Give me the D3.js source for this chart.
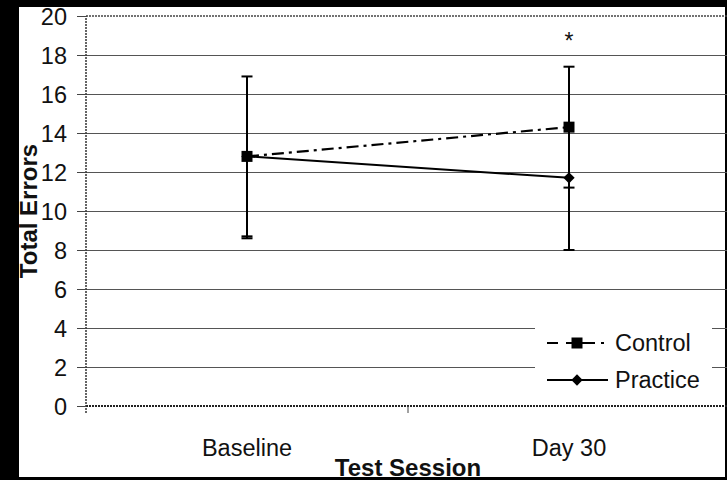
<!DOCTYPE html>
<html>
<head>
<meta charset="utf-8">
<script src="https://cdn.jsdelivr.net/npm/d3@7"></script>
<style>
  html, body { margin: 0; padding: 0; background: #000; }
  svg { display: block; }
  text { font-family: 'Liberation Sans', Arial, sans-serif; fill: #111; }
</style>
</head>
<body>
<div id="chart"></div>
<script>
// data
const sessions = ['Baseline', 'Day 30']
const controlMean = [12.8, 14.3]
const controlSd = [4.1, 3.1]
const practiceMean = [12.8, 11.7]
const practiceSd = [4.2, 3.7]
const yTicks = [0, 2, 4, 6, 8, 10, 12, 14, 16, 18, 20]
const seriesNames = ['Control', 'Practice']

const width = 727
const height = 480
const margin = { top: 16, left: 86, right: -3, bottom: 74 }
const plotW = width - margin.left - margin.right
const plotH = height - margin.top - margin.bottom

const x = d3.scaleBand().domain(sessions).range([0, plotW])
const cx = (d) => x(d) + x.bandwidth() / 2
const y = d3.scaleLinear().domain([0, 20]).range([plotH, 0])

const svg = d3
    .select('#chart')
    .append('svg')
    .attr('width', width)
    .attr('height', height)

// black scan frame
svg.append('rect').attr('width', width).attr('height', height).attr('fill', '#000')
svg.append('rect')
    .attr('x', 19)
    .attr('y', 7)
    .attr('width', width - 21)
    .attr('height', 470)
    .attr('fill', '#fff')

const g = svg
    .append('g')
    .attr('transform', `translate(${margin.left}, ${margin.top})`)

// gridlines
const grid = g
    .append('g')
    .call(d3.axisLeft(y).tickValues(yTicks.filter((d) => d > 0 && d < 20)).tickSize(-plotW).tickFormat(''))
grid.select('.domain').remove()
grid.selectAll('line').attr('stroke', '#555').attr('stroke-width', 1.2)

// plot border (dotted, like the scan)
g.append('line')
    .attr('x1', 0).attr('x2', plotW)
    .attr('y1', 0).attr('y2', 0)
    .attr('stroke', '#444').attr('stroke-width', 1.5).attr('stroke-dasharray', '2,1')
g.append('line')
    .attr('x1', 0).attr('x2', plotW)
    .attr('y1', plotH).attr('y2', plotH)
    .attr('stroke', '#222').attr('stroke-width', 2).attr('stroke-dasharray', '2,1')

// y axis
const yAxis = g
    .append('g')
    .call(d3.axisLeft(y).tickValues(yTicks).tickSize(9).tickPadding(10).tickSizeOuter(0))
yAxis.select('.domain').attr('stroke', '#333').attr('stroke-width', 1.5).attr('stroke-dasharray', '2,1')
    .attr('d', `M0,${plotH + 7}V0`)
yAxis.selectAll('line').attr('stroke', '#444')
yAxis.selectAll('text')
    .style('font-size', '23.5px')
    .style('font-family', "'Liberation Sans', Arial, sans-serif")
    .attr('fill', '#111')
    .attr('dy', '0.36em')

// x axis ticks at category boundaries
const xAxis = g
    .append('g')
    .attr('transform', `translate(0, ${plotH})`)
    .call(d3.axisBottom(x).tickSize(0).tickPadding(33))
xAxis.select('.domain').remove()
xAxis.selectAll('text')
    .style('font-size', '23.5px')
    .style('font-family', "'Liberation Sans', Arial, sans-serif")
    .attr('fill', '#111')
g.append('line')
    .attr('x1', x(sessions[1])).attr('x2', x(sessions[1]))
    .attr('y1', plotH).attr('y2', plotH + 7)
    .attr('stroke', '#444')

// axis titles
svg.append('text')
    .attr('transform', `translate(37, ${margin.top + plotH / 2}) rotate(-90)`)
    .attr('text-anchor', 'middle')
    .style('font-size', '24px')
    .style('font-weight', 'bold')
    .text('Total Errors')

svg.append('text')
    .attr('x', margin.left + x(sessions[1]))
    .attr('y', 476)
    .attr('text-anchor', 'middle')
    .style('font-size', '24px')
    .style('font-weight', 'bold')
    .text('Test Session')

// error bars: control both ways, practice minus only
const bars = []
sessions.forEach((s, i) => {
    bars.push({ s, lo: controlMean[i] - controlSd[i], hi: controlMean[i] + controlSd[i] })
    bars.push({ s, lo: practiceMean[i] - practiceSd[i], hi: practiceMean[i] })
})
const capW = 11
bars.forEach((b) => {
    g.append('line')
        .attr('x1', cx(b.s)).attr('x2', cx(b.s))
        .attr('y1', y(b.lo)).attr('y2', y(b.hi))
        .attr('stroke', '#000').attr('stroke-width', 2)
    g.append('line')
        .attr('x1', cx(b.s) - capW / 2).attr('x2', cx(b.s) + capW / 2)
        .attr('y1', y(b.lo)).attr('y2', y(b.lo))
        .attr('stroke', '#000').attr('stroke-width', 2)
})
bars.filter((b, i) => i % 2 === 0).forEach((b) => {
    g.append('line')
        .attr('x1', cx(b.s) - capW / 2).attr('x2', cx(b.s) + capW / 2)
        .attr('y1', y(b.hi)).attr('y2', y(b.hi))
        .attr('stroke', '#000').attr('stroke-width', 2)
})

// lines
const line = d3.line().x((d) => cx(d.s)).y((d) => y(d.v))
const controlPts = sessions.map((s, i) => ({ s, v: controlMean[i] }))
const practicePts = sessions.map((s, i) => ({ s, v: practiceMean[i] }))

g.append('path')
    .datum(practicePts)
    .attr('d', line)
    .attr('fill', 'none').attr('stroke', '#000').attr('stroke-width', 2)
g.append('path')
    .datum(controlPts)
    .attr('d', line)
    .attr('fill', 'none').attr('stroke', '#000').attr('stroke-width', 2.2)
    .attr('stroke-dasharray', '12,5,3,5')

const square = d3.symbol().type(d3.symbolSquare).size(121)
const diamond = d3.symbol().type(d3.symbolSquare).size(64)

g.selectAll('.practice-pt')
    .data(practicePts)
    .enter()
    .append('path')
    .attr('class', 'practice-pt')
    .attr('transform', (d) => `translate(${cx(d.s)}, ${y(d.v)}) rotate(45)`)
    .attr('d', diamond)
    .attr('fill', '#000')
g.selectAll('.control-pt')
    .data(controlPts)
    .enter()
    .append('path')
    .attr('class', 'control-pt')
    .attr('transform', (d) => `translate(${cx(d.s)}, ${y(d.v)})`)
    .attr('d', square)
    .attr('fill', '#000')

// significance marker
g.append('text')
    .attr('x', cx(sessions[1]))
    .attr('y', 33)
    .attr('text-anchor', 'middle')
    .style('font-size', '23px')
    .text('*')

// legend
const legend = svg.append('g').attr('transform', 'translate(535, 312)')
legend.append('rect').attr('width', 177).attr('height', 85).attr('fill', '#fff')
const rows = legend
    .selectAll('.row')
    .data(seriesNames)
    .enter()
    .append('g')
    .attr('class', 'row')
    .attr('transform', (d, i) => `translate(12, ${31 + i * 37})`)
rows.append('line')
    .attr('x1', 0).attr('x2', 61)
    .attr('stroke', '#000').attr('stroke-width', 2)
    .attr('stroke-dasharray', (d, i) => (i === 0 ? '11,8,29,6,3,100' : null))
rows.append('path')
    .attr('transform', (d, i) => (i === 0 ? 'translate(30, 0)' : 'translate(30, 0) rotate(45)'))
    .attr('d', (d, i) => (i === 0 ? square() : diamond()))
    .attr('fill', '#000')
rows.append('text')
    .attr('x', 68)
    .attr('dy', '0.36em')
    .style('font-size', '23.5px')
    .text((d) => d)
</script>
</body>
</html>
